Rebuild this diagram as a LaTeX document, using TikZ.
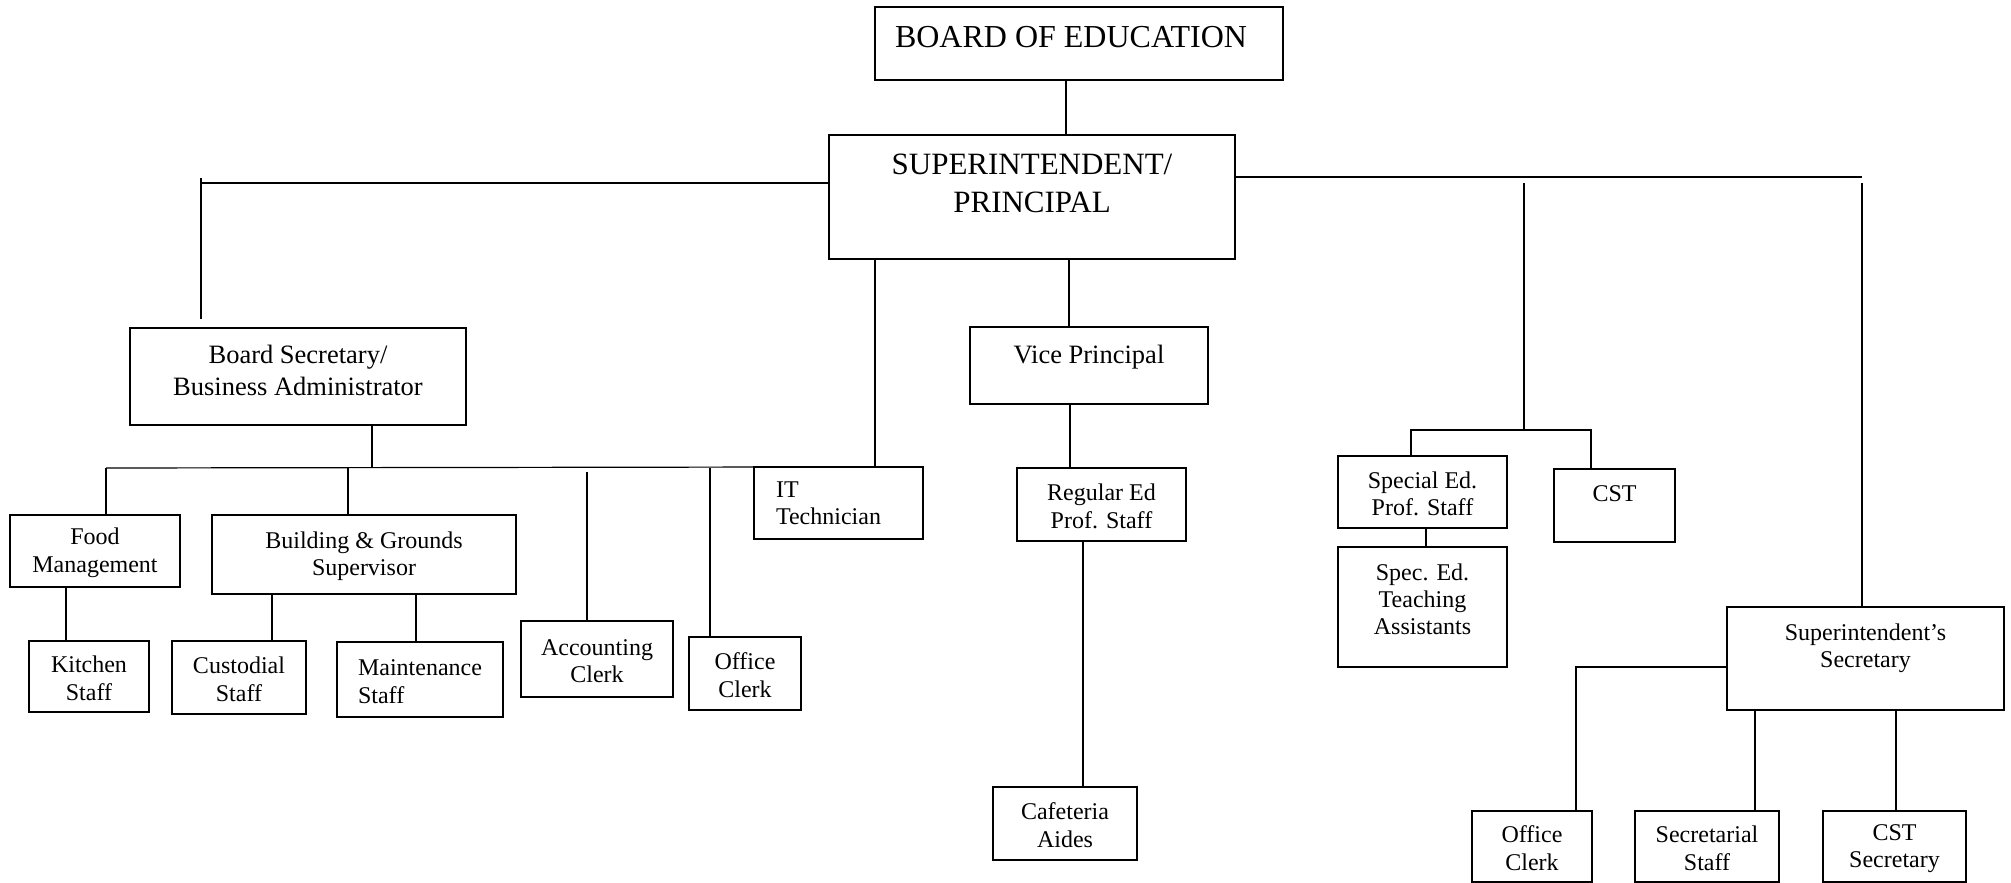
\documentclass[tikz,border=0pt]{standalone}
\usepackage{fontspec}
\setmainfont{Liberation Serif}
\usetikzlibrary{positioning}

\tikzset{
    orgbox/.style={draw=black, fill=white, line width=1.7pt, inner sep=0pt,
                   align=center, text height=48pt, font=\fontsize{24}{27.5}\selectfont},
    headtxt/.style={font=\fontsize{31}{38}\selectfont, align=center, inner sep=0pt},
    midtxt/.style={font=\fontsize{26.5}{32}\selectfont, align=center, inner sep=0pt},
    smalltxt/.style={font=\fontsize{24}{27}\selectfont, align=center, inner sep=0pt},
    link/.style={draw=black, line width=1.2pt},
}

\begin{document}
\begin{tikzpicture}[x=1pt, y=-1pt]
\useasboundingbox (0,0) rectangle (2011,883);

% =======================  top of the chart  =======================
\node[orgbox, minimum width=408, minimum height=73,
      label={[headtxt, font=\fontsize{32}{38}\selectfont, xshift=-8pt, yshift=6pt]center:BOARD OF EDUCATION}]
     (board) at (1079,43.5) {};
\node[orgbox, minimum width=406, minimum height=124,
      label={[headtxt, yshift=13.5pt]center:SUPERINTENDENT/\\PRINCIPAL}]
     (super) at (1032,197) {};

\node[orgbox, minimum width=336, minimum height=97,
      label={[midtxt, yshift=6.5pt]center:Board Secretary/\\Business Administrator}]
     (bsec) at (298,376.5) {};
\node[orgbox, minimum width=238, minimum height=77,
      label={[midtxt, yshift=8pt]center:Vice Principal}]
     (vp) at (1089,365.5) {};

% =======================  business side  =======================
\node[orgbox, minimum width=169, minimum height=72,
      label={[smalltxt, align=left, xshift=-10pt]center:IT\\Technician}]
     (it) at (838.5,503) {};
\node[orgbox, minimum width=170, minimum height=72] (food) at (95,551)
     {Food\\Management};
\node[orgbox, minimum width=304, minimum height=79] (bg) at (364,554.5)
     {Building \& Grounds\\Supervisor};
\node[orgbox, minimum width=152, minimum height=76] (acct) at (597,659)
     {Accounting\\Clerk};
\node[orgbox, minimum width=112, minimum height=73] (offc) at (745,673.5)
     {Office\\Clerk};
\node[orgbox, minimum width=120, minimum height=71] (kitchen) at (89,676.5)
     {Kitchen\\Staff};
\node[orgbox, minimum width=134, minimum height=73] (cust) at (239,677.5)
     {Custodial\\Staff};
\node[orgbox, align=left, minimum width=166, minimum height=75] (maint) at (420,679.5)
     {Maintenance\\Staff};

% =======================  instruction side  =======================
\node[orgbox, minimum width=169, minimum height=73] (regular) at (1101.5,504.5)
     {Regular Ed\\Prof. Staff};
\node[orgbox, minimum width=144, minimum height=73] (cafe) at (1065,823.5)
     {Cafeteria\\Aides};
\node[orgbox, minimum width=169, minimum height=72] (sped) at (1422.5,492)
     {Special Ed.\\Prof. Staff};
\node[orgbox, minimum width=121, minimum height=73,
      label={[smalltxt, yshift=11.5pt]center:CST}]
     (cst) at (1614.5,505.5) {};
\node[orgbox, minimum width=169, minimum height=120,
      label={[smalltxt, yshift=7.5pt]center:Spec. Ed.\\Teaching\\Assistants}]
     (ta) at (1422.5,607) {};

% =======================  office side  =======================
\node[orgbox, minimum width=277, minimum height=103,
      label={[smalltxt, yshift=10pt]center:Superintendent's\\Secretary}]
     (supsec) at (1865.5,658.5) {};
\node[orgbox, minimum width=120, minimum height=71] (offc2) at (1532,846.5)
     {Office\\Clerk};
\node[orgbox, minimum width=144, minimum height=71] (secst) at (1707,846.5)
     {Secretarial\\Staff};
\node[orgbox, minimum width=143, minimum height=71] (cstsec) at (1894.5,846.5)
     {CST\\Secretary};

% =======================  connectors  =======================
\coordinate (busL) at (201,183);
\coordinate (bsecEnd) at (201,319);
\coordinate (busR) at (1862,177);
\coordinate (spedTap) at (1524,183);
\coordinate (spedBus) at (1524,430);
\coordinate (jFood) at (106,468);
\coordinate (jBsec) at (372,468);
\coordinate (jBG) at (348,468);
\coordinate (jAcct) at (587,472);
\coordinate (jOffc) at (710,468);
\coordinate (jEnd) at (788,467);

\draw[link] (board.south -| 1066,0) -- (super.north -| 1066,0);

% left branch
\draw[link] (super.west |- busL) -- (busL);
\draw[link] (201,178) -- (bsecEnd);
\draw[link] (bsec.south -| jBsec) -- (jBsec);
\draw[link] (jFood) -- (jEnd);
\draw[link] (jFood) -- (food.north -| jFood);
\draw[link] (jBG) -- (bg.north -| jBG);
\draw[link] (jAcct) -- (acct.north -| jAcct);
\draw[link] (jOffc) -- (offc.north -| jOffc);
\draw[link] (food.south -| 66,0) -- (kitchen.north -| 66,0);
\draw[link] (bg.south -| 272,0) -- (cust.north -| 272,0);
\draw[link] (bg.south -| 416,0) -- (maint.north -| 416,0);

% middle
\draw[link] (super.south -| 875,0) -- (it.north -| 875,0);
\draw[link] (super.south -| 1069,0) -- (vp.north -| 1069,0);
\draw[link] (vp.south -| 1070,0) -- (regular.north -| 1070,0);
\draw[link] (regular.south -| 1083,0) -- (cafe.north -| 1083,0);

% right branch
\draw[link] (super.east |- busR) -- (busR);
\draw[link] (busR |- spedTap) -- (supsec.north -| busR);
\draw[link] (spedTap) -- (spedBus);
\draw[link] (sped.north -| 1411,0) -- (spedBus -| 1411,0) -- (spedBus -| 1591,0)
            -- (cst.north -| 1591,0);
\draw[link] (sped.south -| 1426,0) -- (ta.north -| 1426,0);
\draw[link] (supsec.west |- 0,667) -| (offc2.north -| 1576,0);
\draw[link] (supsec.south -| 1755,0) -- (secst.north -| 1755,0);
\draw[link] (supsec.south -| 1896,0) -- (cstsec.north -| 1896,0);

\end{tikzpicture}
\end{document}
